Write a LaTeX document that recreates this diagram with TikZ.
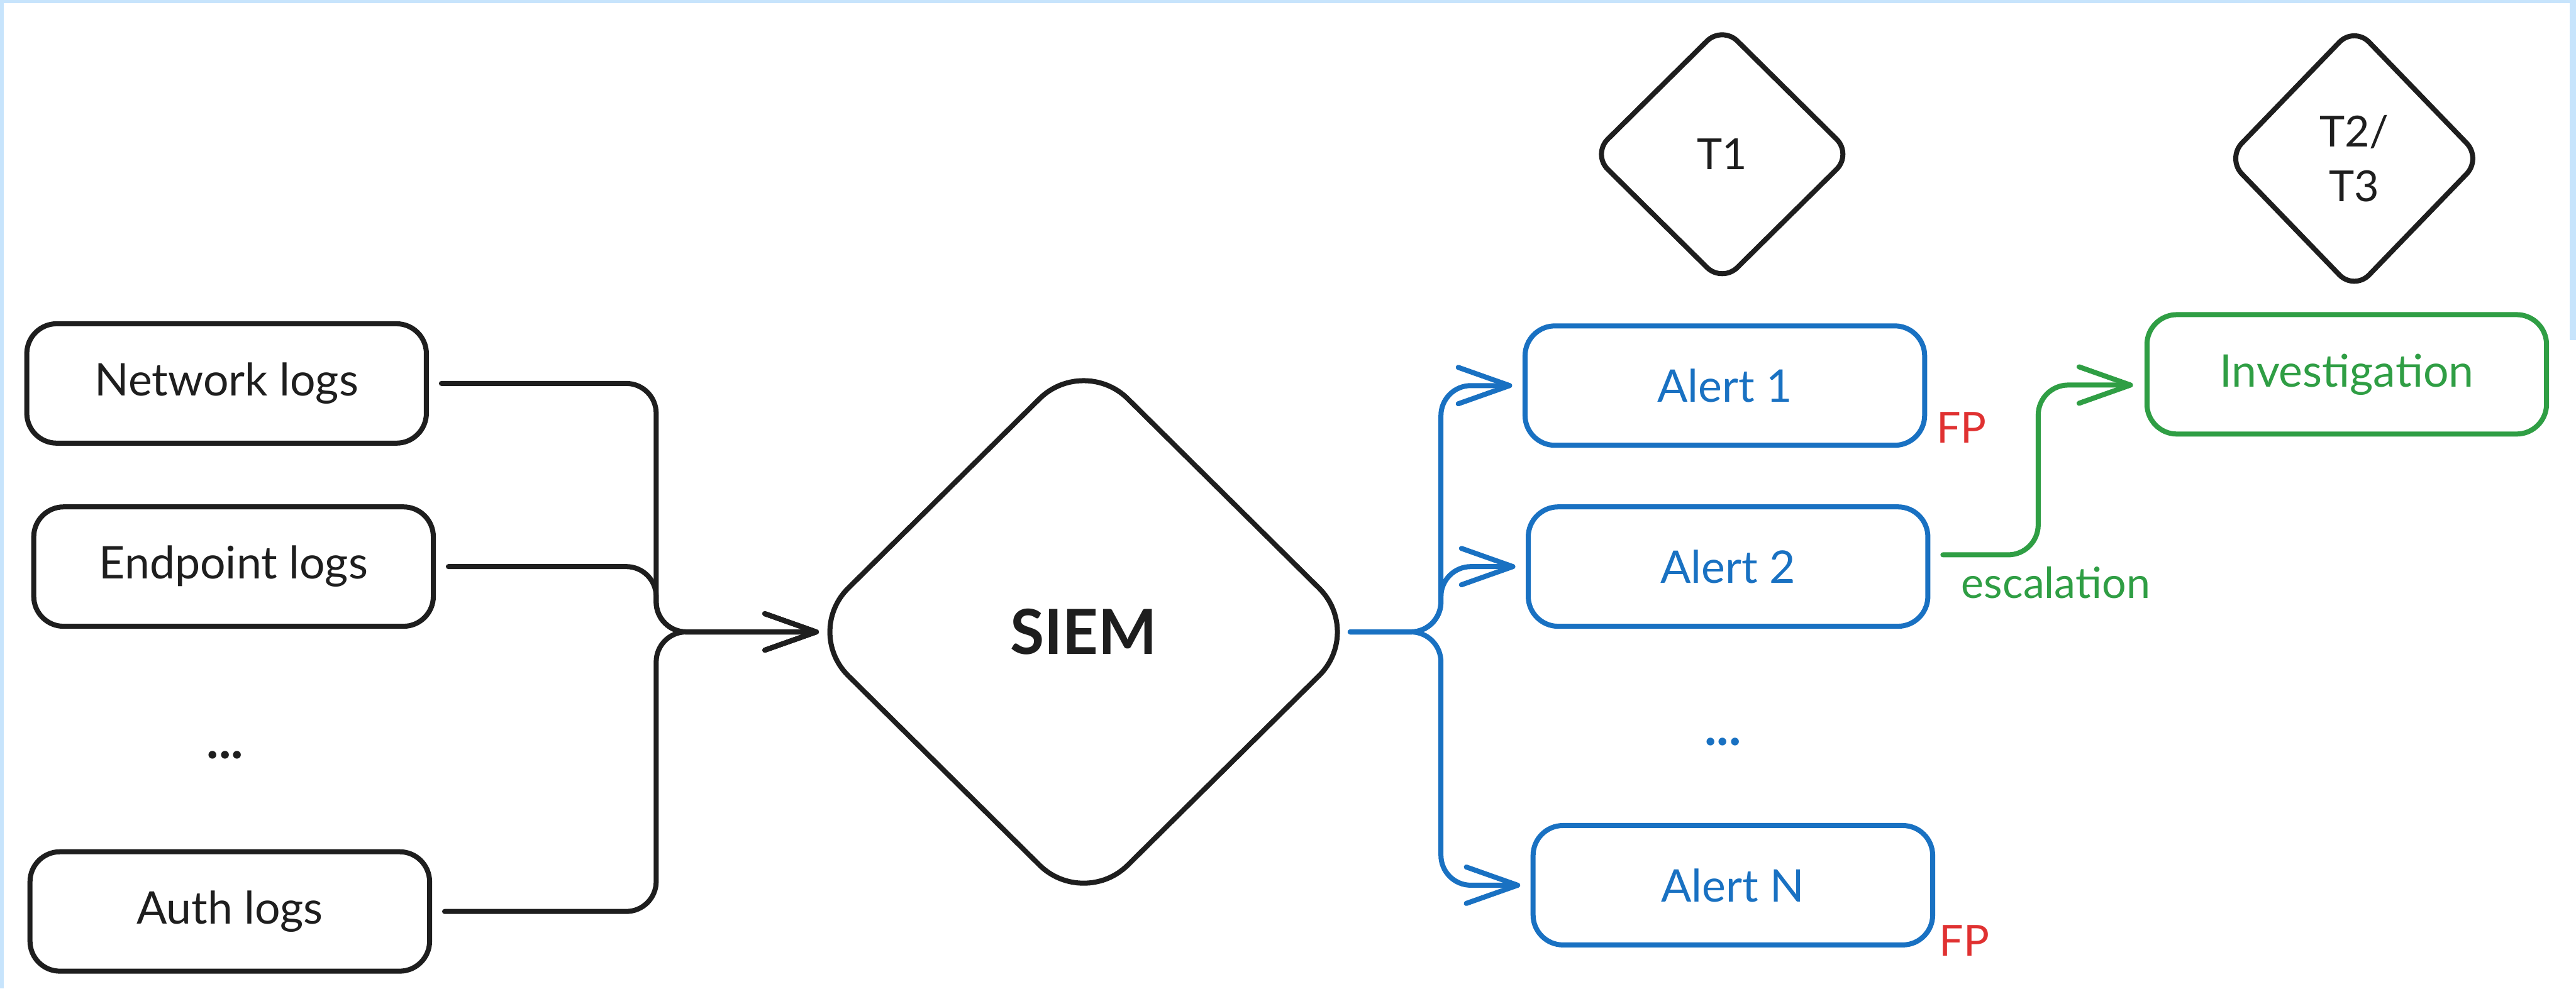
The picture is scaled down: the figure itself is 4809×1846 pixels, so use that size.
\documentclass[tikz,border=0pt]{standalone}
\usepackage{fontspec}
\setmainfont{Lato}
\usetikzlibrary{arrows.meta,shapes.geometric}

\definecolor{ink}{HTML}{1E1E1E}
\definecolor{alertblue}{HTML}{1971C2}
\definecolor{fpred}{HTML}{E03131}
\definecolor{escgreen}{HTML}{2F9E44}
\definecolor{framebg}{HTML}{C7E4FC}

\begin{document}
\begin{tikzpicture}[x=0.25pt, y=-0.25pt,
  stroke/.style={line width=2.35pt, line cap=round, line join=round},
  logbox/.style={stroke, draw=ink, rounded corners=14pt, outer sep=0pt,
    minimum width=186.5pt, minimum height=55.75pt, inner sep=0pt,
    text=ink, font=\fontsize{21}{25}\selectfont},
  alertbox/.style={logbox, draw=alertblue, text=alertblue},
  invbox/.style={logbox, draw=escgreen, text=escgreen},
  bigdiamond/.style={diamond, stroke, draw=ink, outer sep=0pt, inner sep=0pt,
    rounded corners=29pt, minimum width=261pt, minimum height=258.5pt,
    text=ink, font=\fontsize{29}{34}\selectfont\bfseries},
  tierdiamond/.style={diamond, stroke, draw=ink, outer sep=0pt, inner sep=0pt,
    rounded corners=10pt, text=ink, align=center,
    font=\fontsize{20}{25.5}\selectfont},
  ellipsis/.style={font=\fontsize{24}{28}\selectfont\bfseries},
  fplabel/.style={text=fpred, font=\fontsize{20}{24}\selectfont},
  tip/.style={-{Straight Barb[round,length=24pt,width=17pt]}},
  wire/.style={stroke, rounded corners=14pt}
]
  % canvas and frame edges
  \fill[white] (0,0) rectangle (4809,1846);
  \fill[framebg] (0,0) rectangle (4809,6);
  \fill[framebg] (0,0) rectangle (7,1846);
  \fill[framebg] (4797,0) rectangle (4809,635);
  \useasboundingbox (0,0) rectangle (4809,1846);

  % log sources
  \node[logbox] (net)  at (423,716)  {Network logs};
  \node[logbox] (ep)   at (436,1058) {Endpoint logs};
  \node[ellipsis, text=ink] (srcdots) at (420,1410) {...};
  \node[logbox] (auth) at (429,1702) {Auth logs};

  % SIEM
  \node[bigdiamond] (siem) at (2023,1180) {SIEM};

  % alerts
  \node[alertbox] (a1) at (3220,720)  {Alert 1};
  \node[alertbox] (a2) at (3226,1058) {Alert 2};
  \node[ellipsis, text=alertblue] (alertdots) at (3216,1385) {...};
  \node[alertbox] (aN) at (3235,1653) {Alert N};

  \node[fplabel] (fp1) at (3662,798)  {FP};
  \node[fplabel] (fpN) at (3667,1757) {FP};

  % investigation
  \node[invbox] (inv) at (4381,699) {Investigation};

  % analyst tiers
  \node[tierdiamond, minimum width=121pt, minimum height=119.75pt] (t1) at (3215,288) {T1};
  \node[tierdiamond, minimum width=118.75pt, minimum height=123pt] (t23) at (4395,296) {T2/\\T3};

  % sources into the SIEM
  \coordinate (joinL) at (1225,1180);
  \coordinate (siemIn) at ([xshift=6.9pt]siem.west);
  \draw[wire, draw=ink, tip] ([xshift=7pt]net.east)  -| (joinL) -- (siemIn);
  \draw[wire, draw=ink, tip] ([xshift=7pt]ep.east)   -| (joinL) -- (siemIn);
  \draw[wire, draw=ink, tip] ([xshift=7pt]auth.east) -| (joinL) -- (siemIn);

  % SIEM fan-out to alerts
  \coordinate (joinR) at (2690,1180);
  \coordinate (siemOut) at ([xshift=-6.1pt]siem.east);
  \draw[wire, draw=alertblue, tip] (siemOut) -- (joinR) |- ([xshift=-6pt]a1.west);
  \draw[wire, draw=alertblue, tip] (siemOut) -- (joinR) |- ([xshift=-6pt]a2.west);
  \draw[wire, draw=alertblue, tip] (siemOut) -- (joinR) |- ([xshift=-6pt]aN.west);

  % escalation path
  \coordinate (escBend) at (3805,900);
  \draw[wire, draw=escgreen, tip] ([xshift=7pt,yshift=5.5pt]a2.east) -| (escBend)
    |- ([xshift=-6.5pt,yshift=-5pt]inv.west);
  \node[text=escgreen, font=\fontsize{20}{24}\selectfont] (esc) at (3838,1088) {escalation};
\end{tikzpicture}
\end{document}
